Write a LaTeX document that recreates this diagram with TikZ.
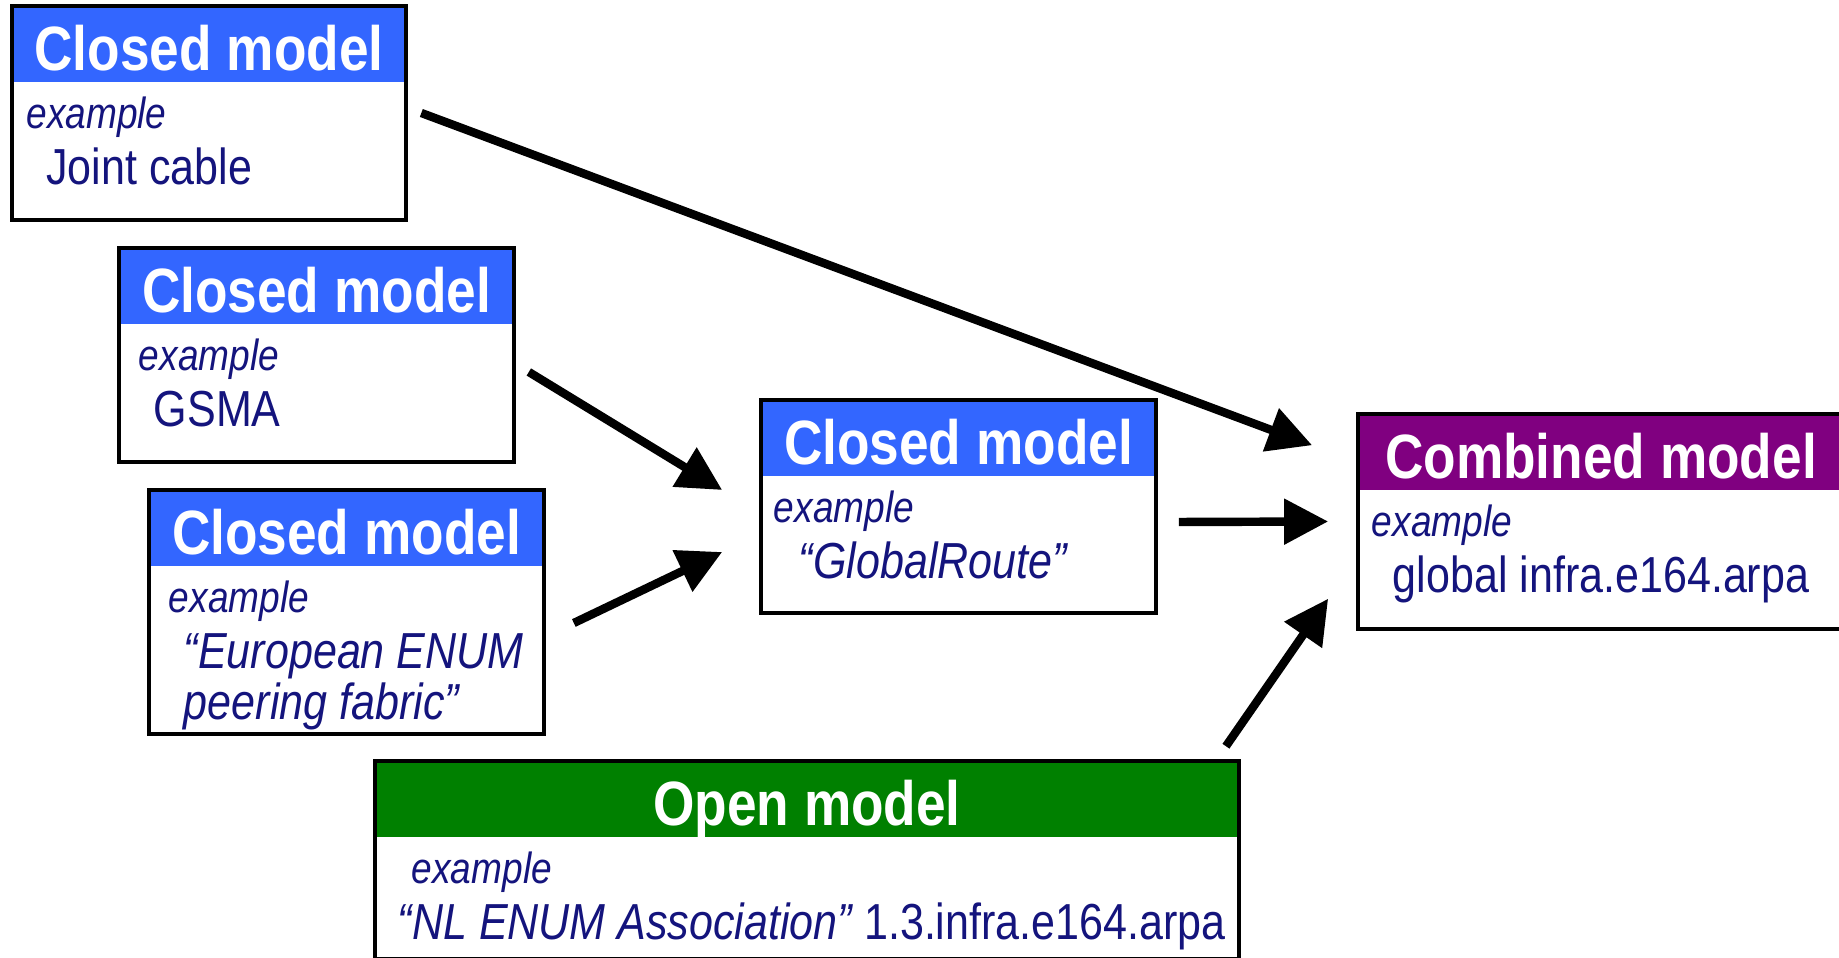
\documentclass[tikz,border=0pt]{standalone}
\usepackage{fontspec}
\setmainfont{Liberation Sans}[FakeStretch=0.85]
\usetikzlibrary{arrows.meta,positioning}
\definecolor{closedblue}{RGB}{51,102,255}
\definecolor{combpurple}{RGB}{128,0,128}
\definecolor{opengreen}{RGB}{0,128,0}
\definecolor{navytext}{RGB}{20,20,125}
\newcommand{\exword}{{\itshape\fontsize{12.4}{14.5}\selectfont example}}

\begin{document}
\begin{tikzpicture}[x=0.01cm,y=0.01cm,
  modelbox/.style={rectangle,inner sep=0pt,fill=white},
  head/.style={rectangle,inner sep=0pt,minimum height=0.75cm,text height=14.8pt,text depth=0pt,text=white,font=\bfseries\fontsize{17.8}{20}\selectfont},
  body/.style={inner sep=0pt,align=left,text=navytext,font=\fontsize{14.4}{14.6}\selectfont},
  border/.style={draw,line width=1.1pt},
  arr/.style={-{Triangle[length=0.44cm,width=0.44cm]},line width=2.4pt}]
  \useasboundingbox (0,0) rectangle (1839,958);
  \clip (0,0) rectangle (1839,958);
  % closed models
  \node[modelbox,minimum width=3.93cm,minimum height=2.12cm] (m1) at (209,845) {};
  \node[head,fill=closedblue,minimum width=3.93cm,below=0pt of m1.north] (m1h) {Closed model};
  \node[body,below right=0.135cm and 0.14cm of m1h.south west] (m1b) {\exword\\[1.2pt]\hspace*{0.2cm}Joint cable};

  \node[modelbox,minimum width=3.93cm,minimum height=2.12cm] (m2) at (316.5,603) {};
  \node[head,fill=closedblue,minimum width=3.93cm,below=0pt of m2.north] (m2h) {Closed model};
  \node[body,below right=0.135cm and 0.19cm of m2h.south west] (m2b) {\exword\\[1.2pt]\hspace*{0.15cm}GSMA};

  \node[modelbox,minimum width=3.93cm,minimum height=2.42cm] (m3) at (346.5,346) {};
  \node[head,fill=closedblue,minimum width=3.93cm,below=0pt of m3.north] (m3h) {Closed model};
  \node[body,below right=0.135cm and 0.19cm of m3h.south west] (m3b) {\exword\\[1.2pt]\hspace*{0.15cm}\itshape “European ENUM\\\hspace*{0.15cm}\itshape peering fabric”};

  \node[modelbox,minimum width=3.93cm,minimum height=2.11cm] (m4) at (958.5,451.5) {};
  \node[head,fill=closedblue,minimum width=3.93cm,below=0pt of m4.north] (m4h) {Closed model};
  \node[body,below right=0.135cm and 0.12cm of m4h.south west] (m4b) {\exword\\[1.2pt]\hspace*{0.25cm}\itshape “GlobalRoute”};

  % combined and open models
  \node[modelbox,minimum width=4.84cm,minimum height=2.13cm] (cmb) at (1601,436.5) {};
  \node[head,fill=combpurple,minimum width=4.84cm,below=0pt of cmb.north] (cmbh) {Combined model};
  \node[body,below right=0.135cm and 0.13cm of cmbh.south west] (cmbb) {\exword\\[1.2pt]\hspace*{0.21cm}global infra.e164.arpa};

  \node[modelbox,minimum width=8.62cm,minimum height=1.96cm] (op) at (807,98) {};
  \node[head,fill=opengreen,minimum width=8.62cm,below=0pt of op.north] (oph) {Open model};
  \node[body,below right=0.135cm and 0.22cm of oph.south west] (opb) {\hspace*{0.14cm}\exword\\[1.2pt]{\itshape “NL ENUM Association”} 1.3.infra.e164.arpa};

  \foreach \m in {m1,m2,m3,m4,cmb,op}
    \draw[border] (\m.north west) rectangle (\m.south east);

  % arrows
  \draw[arr] ([xshift=0.15cm]m1.east) -- ([xshift=-0.46cm,yshift=-0.31cm]cmb.north west);
  \draw[arr] ([xshift=0.15cm,yshift=-0.17cm]m2.east) -- ([xshift=-0.39cm,yshift=0.165cm]m4.west);
  \draw[arr] ([xshift=0.30cm,yshift=-0.11cm]m3.east) -- ([xshift=-0.39cm,yshift=-0.455cm]m4.west);
  \draw[arr] ([xshift=0.23cm,yshift=-0.155cm]m4.east) -- ([xshift=-0.30cm]cmb.west);
  \draw[arr] ([xshift=-0.13cm,yshift=0.15cm]op.north east) -- ([xshift=-0.30cm,yshift=0.30cm]cmb.south west);
\end{tikzpicture}
\end{document}
